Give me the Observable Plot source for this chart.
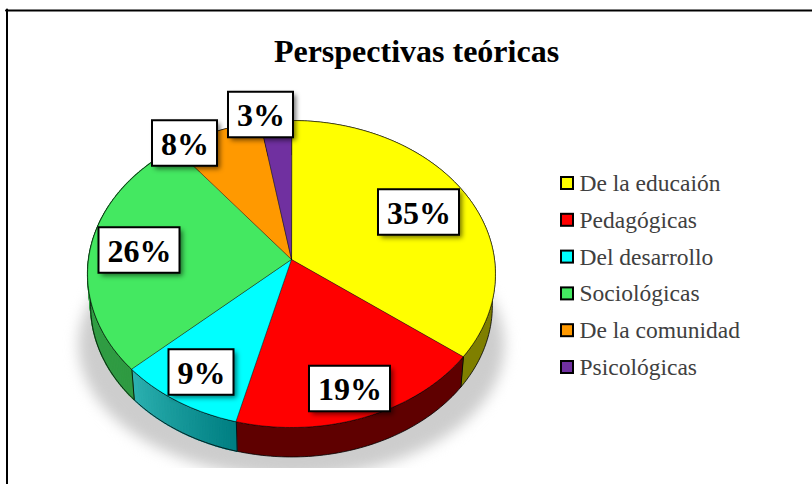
<!DOCTYPE html>
<html lang="es">
<head>
<meta charset="utf-8">
<title>Perspectivas teóricas</title>
<script src="https://cdn.jsdelivr.net/npm/d3@7"></script>
<script src="https://cdn.jsdelivr.net/npm/@observablehq/plot@0.6"></script>
<style>
html,body{margin:0;padding:0;background:#fff;overflow:hidden}
#chart{position:absolute;left:0;top:0}
svg{display:block}
</style>
</head>
<body>
<div id="chart"></div>
<script>
// ---- data ----
const chartTitle = "Perspectivas teóricas";
const categories = ["De la educaión", "Pedagógicas", "Del desarrollo", "Sociológicas", "De la comunidad", "Psicológicas"];
const shares = [35.3, 18.7, 9.2, 26.2, 7.9, 2.7];
const topColors = ["#FFFF00", "#FF0000", "#00FFFF", "#44E861", "#FF9900", "#7030A0"];
const sideColorsA = ["#7F7F00", "#5F0000", "#007F82", "#2F9A42", "#7F4C00", "#381850"];
const sideColorsB = ["#7F7F00", "#5F0000", "#2CB0B0", "#36A64A", "#7F4C00", "#381850"];

// ---- layout (pixels) ----
const W = 812, H = 484, clipBottom = 468;
const apex = {x: 291, y: 259}, R = 203, S = 152.1, K = 0.0945;
const depth = 32, baseScale = 0.985;
const labelCenters = [[418.5, 212], [349.5, 388.5], [201, 372], [139, 250], [184.5, 143], [260.5, 114.5]];
const labelSize = {wide: 81, narrow: 65, h: 45.5};
const legend = {box: 560, text: 579, first: 183, step: 36.8, side: 12};

// ---- geometry derived from the shares ----
const project = (deg, c = apex, rx = R, ry = S) => {
  const a = deg * Math.PI / 180, den = 1 + K * Math.cos(a);
  return {x: c.x + rx * Math.sin(a) / den, y: c.y - ry * Math.cos(a) / den};
};
const total = d3.sum(shares);
let cum = 0;
const slices = categories.map((name, i) => {
  const a0 = cum / total * 360; cum += shares[i]; const a1 = cum / total * 360;
  return {name, i, a0, a1, value: shares[i]};
});
const arcDegrees = (a0, a1) => {
  const n = Math.max(2, Math.ceil(a1 - a0));
  return d3.range(n + 1).map(k => a0 + (a1 - a0) * k / n);
};
const baseC = {x: apex.x, y: apex.y + depth};
const onBase = deg => project(deg, baseC, R * baseScale, S * baseScale);

const topPoints = slices.flatMap(s => [
  {x: apex.x, y: apex.y, name: s.name},
  ...arcDegrees(s.a0, s.a1).map(d => ({...project(d), name: s.name}))
]);

const sideMarks = slices.flatMap(s => {
  const degs = arcDegrees(s.a0, s.a1);
  const outline = [...degs.map(d => onBase(d)), ...degs.slice().reverse().map(d => project(d))];
  const outlineMark = fill => Plot.line(outline, {x: "x", y: "y", curve: "linear-closed", fill, stroke: "#000", strokeWidth: 0.8});
  if (sideColorsA[s.i] === sideColorsB[s.i]) return [outlineMark(sideColorsA[s.i])];
  const strip = degs.slice(1).map((d, k) => {
    const t = k / Math.max(1, degs.length - 2);
    const col = d3.interpolateRgb(sideColorsA[s.i], sideColorsB[s.i])(t);
    const pts = [project(degs[k]), project(d), onBase(d), onBase(degs[k])];
    return Plot.line(pts, {x: "x", y: "y", curve: "linear-closed", fill: col, stroke: col, strokeWidth: 1.4});
  });
  return [...strip, outlineMark("none")];
});

const shadowPts = d3.range(0, 360, 3).map(d => project(d, {x: apex.x, y: 332}, 212, 131));

const labels = slices.map((s, i) => {
  const text = d3.format(".0f")(s.value) + "%";
  const w = text.length > 2 ? labelSize.wide : labelSize.narrow;
  const [cx, cy] = labelCenters[i];
  return {text, cx, cy, x1: cx - w / 2, x2: cx + w / 2, y1: cy - labelSize.h / 2, y2: cy + labelSize.h / 2};
});
const legendRows = categories.map((name, i) => {
  const y = legend.first + i * legend.step;
  return {name, y, x1: legend.box + 1, x2: legend.box + 1 + legend.side, y1: y - legend.side / 2, y2: y + legend.side / 2};
});
const shift = (rows, d) => rows.map(r => ({...r, x1: r.x1 + d, x2: r.x2 + d, y1: r.y1 + d, y2: r.y2 + d}));

const serif = "'Liberation Serif','Times New Roman',serif";

const chart = Plot.plot({
  width: W, height: H,
  marginTop: 0, marginLeft: 0, marginRight: 0, marginBottom: H - clipBottom,
  x: {domain: [0, W], range: [0, W], axis: null},
  y: {domain: [0, clipBottom], range: [0, clipBottom], axis: null},
  color: {domain: categories, range: topColors},
  style: {background: "#fff", overflow: "visible"},
  marks: [
    // border: top and left rules only
    Plot.line([{x: 5.5, y: 10}, {x: W, y: 10}], {x: "x", y: "y", stroke: "#000", strokeWidth: 2}),
    Plot.line([{x: 6.5, y: 9}, {x: 6.5, y: H}], {x: "x", y: "y", stroke: "#000", strokeWidth: 2}),
    // soft shadow under the pie, cut at the plot frame
    Plot.line(shadowPts, {x: "x", y: "y", curve: "linear-closed", fill: "#cdcdcd", stroke: "none", imageFilter: "blur(7px)", clip: "frame"}),
    // extruded side
    ...sideMarks,
    // top face
    Plot.line(topPoints, {x: "x", y: "y", z: "name", curve: "linear-closed", fill: "name", stroke: "#000", strokeWidth: 0.7, strokeOpacity: 0.7}),
    // data labels
    Plot.rect(shift(labels, 3), {x1: "x1", x2: "x2", y1: "y1", y2: "y2", fill: "#000", fillOpacity: 0.55, imageFilter: "blur(2.5px)"}),
    Plot.rect(labels, {x1: "x1", x2: "x2", y1: "y1", y2: "y2", fill: "#fff", stroke: "#000", strokeWidth: 2}),
    Plot.text(labels, {x: "cx", y: d => d.cy + 1, text: "text", fontFamily: serif, fontWeight: "bold", fontSize: 32, fill: "#000"}),
    // title
    Plot.text([chartTitle], {x: () => 416, y: () => 51, text: d => d, fontFamily: serif, fontWeight: "bold", fontSize: 32, fill: "#000"}),
    // legend
    Plot.rect(legendRows, {x1: "x1", x2: "x2", y1: "y1", y2: "y2", fill: "name", stroke: "#000", strokeWidth: 2}),
    Plot.text(legendRows, {x: () => legend.text, y: "y", text: "name", textAnchor: "start", fontFamily: serif, fontSize: 23.5, fill: "#404040"})
  ]
});
document.getElementById("chart").appendChild(chart);
</script>
</body>
</html>
